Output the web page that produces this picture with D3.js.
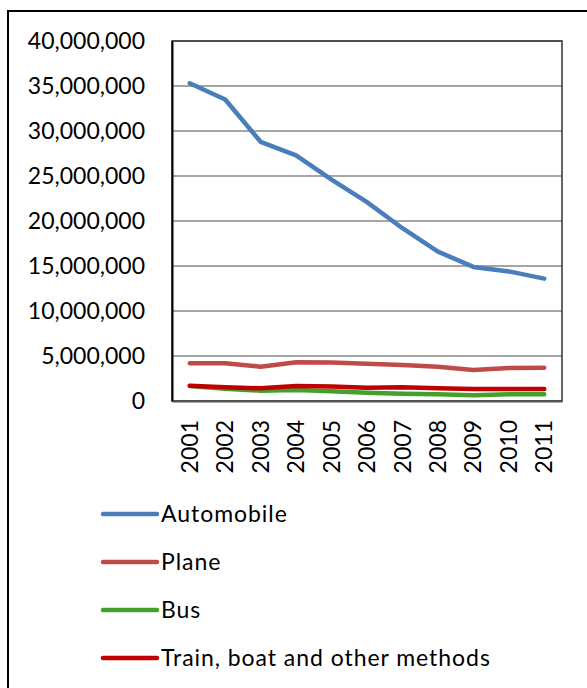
<!DOCTYPE html>
<html>
<head>
<meta charset="utf-8">
<script src="https://cdn.jsdelivr.net/npm/d3@7"></script>
<style>
  html, body { margin: 0; padding: 0; background: #fff; }
  svg { display: block; }
  text { font-family: Lato, "Open Sans", sans-serif; fill: #000; }
</style>
</head>
<body>
<svg id="chart" width="587" height="688"></svg>
<script>
// Passenger trips by travel method, 2001-2011
const years = ["2001","2002","2003","2004","2005","2006","2007","2008","2009","2010","2011"];
const automobile = [35300000,33500000,28800000,27300000,24600000,22100000,19200000,16600000,14900000,14400000,13600000];
const plane      = [4190000,4190000,3810000,4300000,4270000,4150000,4000000,3810000,3440000,3670000,3700000];
const bus        = [1670000,1370000,1150000,1220000,1070000,930000,810000,740000,630000,740000,740000];
const trainOther = [1700000,1520000,1410000,1670000,1600000,1480000,1520000,1410000,1330000,1330000,1330000];
const yTicks = [0,5000000,10000000,15000000,20000000,25000000,30000000,35000000,40000000];

const seriesNames = ["Automobile","Plane","Bus","Train, boat and other methods"];
const seriesColors = ["#4A7EBB","#BE4B48","#43A02B","#C00000"];
const seriesValues = [automobile, plane, bus, trainOther];
// draw order: automobile, plane, bus, then train on top
const series = seriesNames.map((name, i) => ({ name, color: seriesColors[i], values: seriesValues[i] }));

const svg = d3.select("#chart");

// outer chart frame
svg.append("rect")
  .attr("x", 8).attr("y", 11)
  .attr("width", 620).attr("height", 720)
  .attr("fill", "#fff").attr("stroke", "#000").attr("stroke-width", 2);

const plot = { left: 172, top: 41, right: 562, bottom: 401 };

const x = d3.scaleBand().domain(years).range([plot.left, plot.right]);
const y = d3.scaleLinear().domain([0, 40000000]).range([plot.bottom, plot.top]);

// horizontal gridlines
svg.append("g")
  .selectAll("line")
  .data(yTicks)
  .join("line")
  .attr("x1", plot.left).attr("x2", plot.right)
  .attr("y1", d => y(d)).attr("y2", d => y(d))
  .attr("stroke", "#878787").attr("stroke-width", 1.5);

// plot frame
svg.append("rect")
  .attr("x", plot.left).attr("y", plot.top)
  .attr("width", plot.right - plot.left).attr("height", plot.bottom - plot.top)
  .attr("fill", "none").attr("stroke", "#333").attr("stroke-width", 1.5);

// y axis
const yAxis = d3.axisLeft(y).tickValues(yTicks).tickSize(0).tickPadding(27)
  .tickFormat(d3.format(","));
const gy = svg.append("g").attr("transform", `translate(${plot.left},0)`).call(yAxis);
gy.select(".domain").attr("stroke", "#000").attr("stroke-width", 2);
gy.selectAll("text").attr("font-size", 23).attr("font-family", "Lato, sans-serif").attr("fill", "#000");

// x axis with vertical year labels
const xAxis = d3.axisBottom(x).tickSize(0);
const gx = svg.append("g").attr("transform", `translate(0,${plot.bottom})`).call(xAxis);
gx.select(".domain").attr("stroke", "#555").attr("stroke-width", 2);
gx.selectAll("text")
  .attr("font-size", 23).attr("font-family", "Lato, sans-serif").attr("fill", "#000")
  .attr("transform", "rotate(-90)")
  .attr("text-anchor", "end")
  .attr("dy", "0.35em")
  .attr("x", -19).attr("y", 0);

// series lines
const line = d3.line()
  .x((d, i) => x(years[i]) + x.bandwidth() / 2)
  .y(d => y(d));

svg.append("g")
  .selectAll("path")
  .data(series)
  .join("path")
  .attr("d", d => line(d.values))
  .attr("fill", "none")
  .attr("stroke", d => d.color)
  .attr("stroke-width", 4.5)
  .attr("stroke-linejoin", "round")
  .attr("stroke-linecap", "round");

// legend
const legend = svg.append("g")
  .selectAll("g")
  .data(series)
  .join("g")
  .attr("transform", (d, i) => `translate(103,${514 + i * 48})`);
legend.append("line")
  .attr("x1", 0).attr("x2", 54)
  .attr("stroke", d => d.color).attr("stroke-width", 4.5)
  .attr("stroke-linecap", "round");
legend.append("text")
  .attr("x", 58).attr("dy", "0.35em")
  .attr("font-size", 23)
  .attr("letter-spacing", 0.95)
  .text(d => d.name);
</script>
</body>
</html>
